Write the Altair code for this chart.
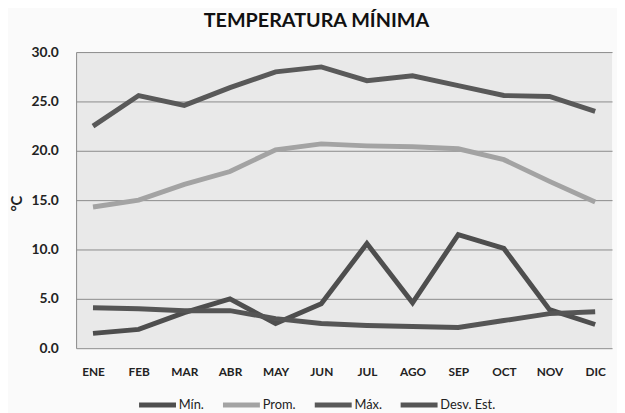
import altair as alt
import pandas as pd

months = ["ENE", "FEB", "MAR", "ABR", "MAY", "JUN", "JUL", "AGO", "SEP", "OCT", "NOV", "DIC"]
series_names = ["Mín.", "Prom.", "Máx.", "Desv. Est."]
v_min = [1.5, 1.9, 3.6, 5.0, 2.5, 4.5, 10.6, 4.6, 11.5, 10.1, 3.9, 2.4]
v_prom = [14.3, 15.0, 16.6, 17.9, 20.1, 20.7, 20.5, 20.4, 20.2, 19.1, 16.9, 14.8]
v_max = [22.5, 25.6, 24.6, 26.4, 28.0, 28.5, 27.1, 27.6, 26.6, 25.6, 25.5, 24.0]
v_desv = [4.1, 4.0, 3.8, 3.8, 3.0, 2.5, 2.3, 2.2, 2.1, 2.8, 3.5, 3.7]
colors = ["#4e4e4e", "#a3a3a3", "#595959", "#555555"]

rows = []
for name, vals in zip(series_names, [v_min, v_prom, v_max, v_desv]):
    for m, v in zip(months, vals):
        rows.append({"mes": m, "serie": name, "valor": v})
df = pd.DataFrame(rows)

font = "Lato"

chart = alt.Chart(df).mark_line(strokeWidth=5, strokeCap="butt", strokeJoin="miter").encode(
    x=alt.X("mes:N", sort=months, scale=alt.Scale(type="point", padding=0.37),
            axis=alt.Axis(title=None, ticks=False, domain=False, grid=False,
                          labelPadding=19, labelFontSize=12, labelFontWeight="bold",
                          labelColor="#222", labelFont=font, labelAngle=0)),
    y=alt.Y("valor:Q", scale=alt.Scale(domain=[0, 30], nice=False),
            axis=alt.Axis(title="°C", values=[0, 5, 10, 15, 20, 25, 30], format=".1f",
                          ticks=False, domain=True, domainColor="#888", grid=True,
                          gridColor="#8a8a8a", gridWidth=1, labelPadding=18,
                          labelFontSize=14, labelFontWeight="bold", labelColor="#222",
                          labelFont=font, titleFont=font, titleFontSize=15,
                          titleFontWeight="bold", titleColor="#222", titleX=-60, titleY=153,
                          titleBaseline="middle", titleAngle=270)),
    color=alt.Color("serie:N", sort=series_names,
                    scale=alt.Scale(domain=series_names, range=colors),
                    legend=alt.Legend(title=None, orient="none", direction="horizontal",
                                      legendX=61, legendY=336, symbolType="stroke",
                                      symbolSize=1400, symbolStrokeWidth=5,
                                      labelFontSize=13, labelFont=font, labelColor="#222",
                                      labelOffset=0, columnPadding=8, gridAlign="none")),
).properties(
    width=543,
    height=300,
    title=alt.TitleParams("TEMPERATURA MÍNIMA", font=font, fontSize=20, fontWeight="bold",
                          color="#111", offset=14, anchor="middle", dx=-28),
    autosize=alt.AutoSizeParams(type="none"),
    padding={"left": 69, "top": 42, "right": 5, "bottom": 63},
    background="#fafafa",
).configure_view(fill="#e9e9e9", stroke=None)

chart.save("out.html", embed_options={"renderer": "svg", "actions": False})
